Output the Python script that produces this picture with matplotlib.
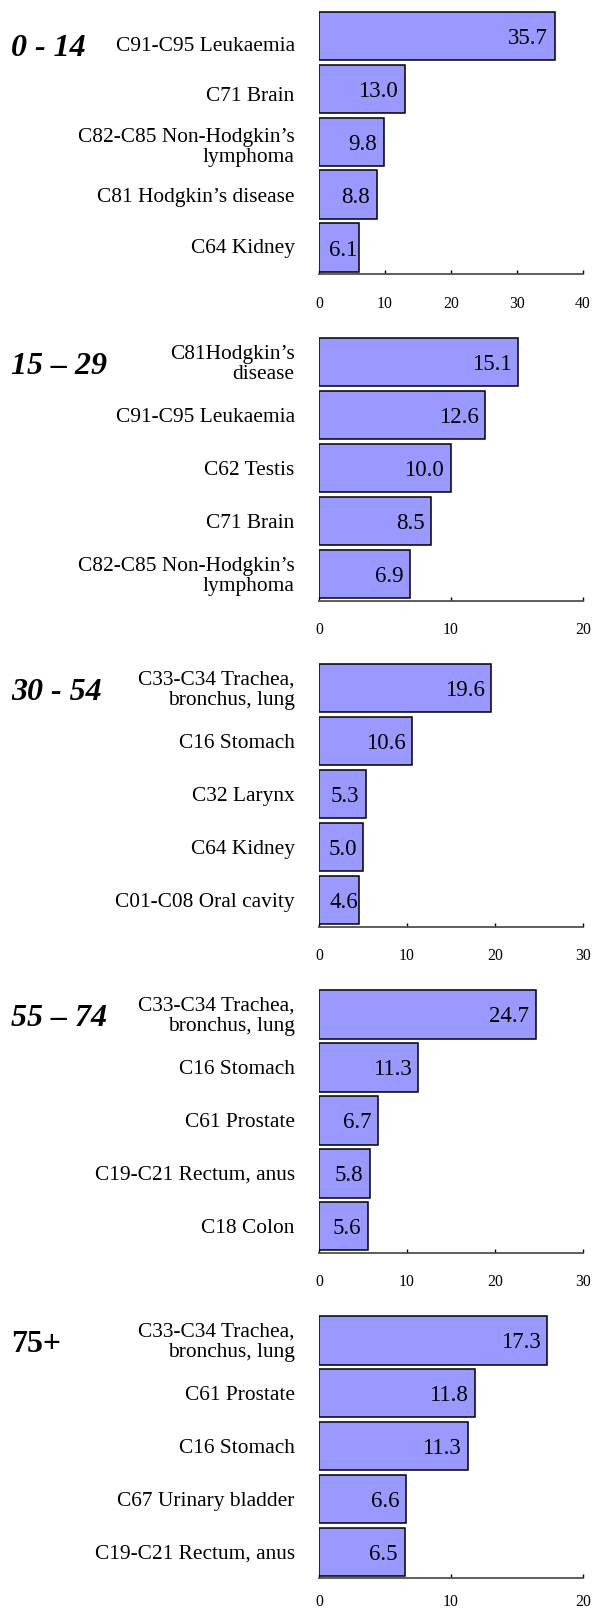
import matplotlib
matplotlib.use('Agg')
import matplotlib.pyplot as plt

plt.rcParams['font.family'] = ['Liberation Serif', 'DejaVu Serif']

# ---------------- data ----------------
age_groups = ['0 - 14', '15 – 29', '30 - 54', '55 – 74', '75+']

cats_0_14 = ['C91-C95 Leukaemia', 'C71 Brain', 'C82-C85 Non-Hodgkin’s\nlymphoma',
             'C81 Hodgkin’s disease', 'C64 Kidney']
vals_0_14 = [35.7, 13.0, 9.8, 8.8, 6.1]

cats_15_29 = ['C81Hodgkin’s\ndisease', 'C91-C95 Leukaemia', 'C62 Testis', 'C71 Brain',
              'C82-C85 Non-Hodgkin’s\nlymphoma']
vals_15_29 = [15.1, 12.6, 10.0, 8.5, 6.9]

cats_30_54 = ['C33-C34 Trachea,\nbronchus, lung', 'C16 Stomach', 'C32 Larynx', 'C64 Kidney',
              'C01-C08 Oral cavity']
vals_30_54 = [19.6, 10.6, 5.3, 5.0, 4.6]

cats_55_74 = ['C33-C34 Trachea,\nbronchus, lung', 'C16 Stomach', 'C61 Prostate',
              'C19-C21 Rectum, anus', 'C18 Colon']
vals_55_74 = [24.7, 11.3, 6.7, 5.8, 5.6]

cats_75 = ['C33-C34 Trachea,\nbronchus, lung', 'C61 Prostate', 'C16 Stomach',
           'C67 Urinary bladder', 'C19-C21 Rectum, anus']
vals_75 = [17.3, 11.8, 11.3, 6.6, 6.5]

axis_max = [40, 20, 30, 30, 20]
tick_step = 10

categories = [cats_0_14, cats_15_29, cats_30_54, cats_55_74, cats_75]
values = [vals_0_14, vals_15_29, vals_30_54, vals_55_74, vals_75]

# ---------------- layout ----------------
W, H = 593, 1609
DPI = 100
fig = plt.figure(figsize=(W / DPI, H / DPI), dpi=DPI)

ax_left_px, ax_width_px = 319, 264
panel_px = [(9.5, 274.0), (335.5, 600.7), (661.5, 926.7), (988.0, 1252.7), (1314.0, 1578.3)]
label_grid = [(0.155, 0.955), (0.0, 1.0), (0.0, 1.0), (0.0, 1.0), (0.0, 1.0)]
tick_pad = [15.5, 15.5, 15.5, 15.5, 11.5]
age_italic = [True, True, True, True, False]

BAR_COLOR = '#9999FF'
value_texts = []
axes = []

for p in range(5):
    top, bot = panel_px[p]
    ax = fig.add_axes([ax_left_px / W, 1 - bot / H, ax_width_px / W, (bot - top) / H])
    axes.append(ax)
    vals = values[p]
    cats = categories[p]
    n = len(vals)
    ypos = list(range(n))
    ax.barh(ypos, vals, height=0.915, color=BAR_COLOR, edgecolor='black',
            linewidth=1.1, zorder=2)
    ax.set_ylim(n - 0.5, -0.5)
    ax.set_xlim(0, axis_max[p])
    ax.set_xticks(range(0, axis_max[p] + 1, tick_step))
    ax.tick_params(axis='x', direction='in', length=3, width=1.0, color='black',
                   labelsize=11.3, pad=tick_pad[p])
    ax.set_yticks([])
    for s in ['top', 'right', 'left']:
        ax.spines[s].set_visible(False)
    ax.spines['bottom'].set_color('#505050')
    ax.spines['bottom'].set_linewidth(1.3)
    ax.patch.set_alpha(0)

    off, sc = label_grid[p]
    for i, (c, v) in enumerate(zip(cats, vals)):
        ly = off + sc * i
        ax.annotate(c, xy=(0, ly), xycoords=('axes fraction', 'data'),
                    xytext=(-17.5, -1.5), textcoords='offset points',
                    ha='right', va='center', fontsize=15.4, linespacing=1.08,
                    annotation_clip=False)
        t = ax.annotate(f'{v:.1f}', xy=(v, i), xycoords='data',
                        xytext=(-5, 0), textcoords='offset points',
                        ha='right', va='center_baseline', fontsize=16.5, zorder=3)
        value_texts.append((ax, t))

    ax.annotate(age_groups[p], xy=(11 / W, off), xycoords=('figure fraction', 'data'),
                xytext=(0, -3), textcoords='offset points',
                ha='left', va='center', fontsize=23, fontweight='bold',
                fontstyle='italic' if age_italic[p] else 'normal',
                annotation_clip=False)

# keep narrow-bar values inside the bar with a minimum left margin
fig.canvas.draw()
renderer = fig.canvas.get_renderer()
for ax, t in value_texts:
    bb = t.get_window_extent(renderer)
    minx = ax.transData.transform((0, 0))[0] + 10
    if bb.x0 < minx:
        dx = (minx - bb.x0) * 72.0 / DPI
        x0, y0 = t.xyann
        t.xyann = (x0 + dx, y0)

fig.savefig('out.png', dpi=DPI)
